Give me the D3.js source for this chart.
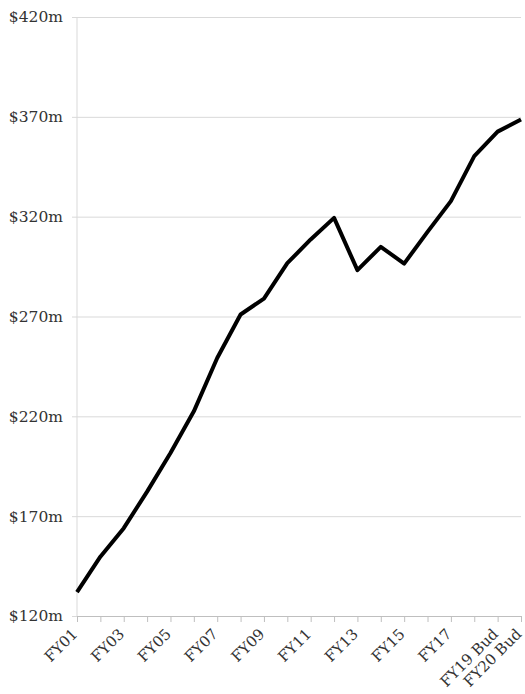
<!DOCTYPE html>
<html>
<head>
<meta charset="utf-8">
<script src="https://cdn.jsdelivr.net/npm/d3@7"></script>
<style>
  html, body { margin: 0; padding: 0; background: #fff; }
  svg { display: block; }
  text { font-family: "DejaVu Serif", "Liberation Serif", serif; fill: #333; }
</style>
</head>
<body>
<svg id="chart" width="525" height="694"></svg>
<script>
const categories = ["FY01","FY02","FY03","FY04","FY05","FY06","FY07","FY08","FY09","FY10",
                    "FY11","FY12","FY13","FY14","FY15","FY16","FY17","FY18","FY19 Bud","FY20 Bud"];
const values = [132, 149.7, 164, 182.3, 201.6, 222.5, 249.2, 271, 279, 296.7,
                308.6, 319.4, 293.2, 304.9, 296.5, 312.4, 327.8, 350.3, 362.6, 368.7];
const yTicks = [120, 170, 220, 270, 320, 370, 420];
const xLabelShown = ["FY01","FY03","FY05","FY07","FY09","FY11","FY13","FY15","FY17","FY19 Bud","FY20 Bud"];

(function () {
const svg = d3.select("#chart");
const mLeft = 77, mRight = 521, mTop = 17, mBottom = 616;

const x = d3.scalePoint().domain(categories).range([mLeft, mRight]);
const y = d3.scaleLinear().domain([120, 420]).range([mBottom, mTop]);

// gridlines + y labels
const yAxis = d3.axisLeft(y).tickValues(yTicks).tickSize(-(mRight - mLeft)).tickPadding(14)
  .tickFormat(d => "$" + d + "m");
const gy = svg.append("g").attr("transform", `translate(${mLeft},0)`).call(yAxis);
gy.select(".domain").remove();
gy.selectAll(".tick line").attr("x1", -5).attr("stroke", "#d9d9d9");
gy.selectAll(".tick text").attr("font-size", 15.5).attr("fill", "#333")
  .attr("font-family", "DejaVu Serif, serif");

// vertical axis line
svg.append("line").attr("x1", mLeft).attr("x2", mLeft).attr("y1", mTop).attr("y2", mBottom)
  .attr("stroke", "#d9d9d9");

// x axis
const xAxis = d3.axisBottom(x).tickSizeOuter(0).tickSize(6)
  .tickFormat(d => xLabelShown.includes(d) ? d : "");
const gx = svg.append("g").attr("transform", `translate(0,${mBottom})`).call(xAxis);
gx.select(".domain").attr("stroke", "#bfbfbf").attr("d", `M${mLeft},0.5H${mRight}`);
gx.selectAll(".tick line").attr("stroke", "#bfbfbf");
gx.selectAll(".tick text")
  .attr("font-size", 15).attr("fill", "#333").attr("font-family", "DejaVu Serif, serif")
  .attr("text-anchor", "end")
  .attr("x", 0).attr("y", 0).attr("dy", 0)
  .attr("transform", "translate(1,19) rotate(-45)");

// line
const line = d3.line().x((d, i) => x(categories[i])).y(d => y(d));
svg.append("path").datum(values)
  .attr("fill", "none").attr("stroke", "#000").attr("stroke-width", 4)
  .attr("stroke-linejoin", "round")
  .attr("d", line);
})();
</script>
</body>
</html>
